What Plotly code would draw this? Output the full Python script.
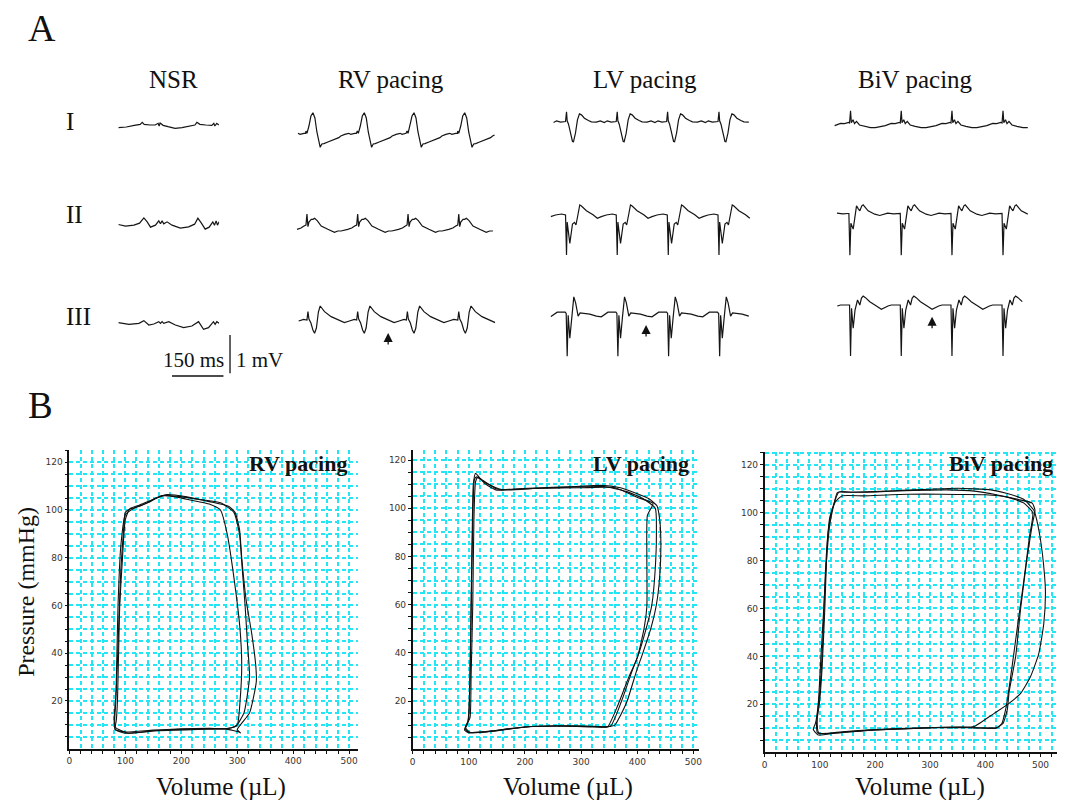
import plotly.graph_objects as go

W, H = 1068, 800

# ---------------- Panel A : ECG data (time in ms, voltage in mV) ----------------
# NSR traces (irregular, listed explicitly)
NSR_I_T = [0, 24, 48, 66, 72, 78, 96, 111, 120, 123, 126, 135, 150, 171, 192, 216, 231, 237, 246, 264, 282, 288, 291, 297, 303]
NSR_I_V = [-0.05, -0.03, 0.02, 0.05, 0.11, 0.05, 0.03, 0.03, 0.08, 0, 0.09, 0.02, -0.02, -0.07, -0.05, 0, 0.03, 0.11, 0.05, 0.03, 0.02, 0.08, 0, 0.08, 0.03]
NSR_II_T = [0, 22, 47, 64, 77, 87, 97, 112, 122, 127, 132, 137, 147, 162, 187, 212, 230, 240, 250, 262, 274, 285, 290, 295, 299, 304]
NSR_II_V = [0, -0.05, -0.02, 0.04, 0.2, 0.08, -0.08, -0.02, 0.11, 0.02, 0.11, 0.02, 0.08, -0.02, -0.11, -0.07, 0.01, 0.19, 0.05, -0.14, -0.08, 0.08, -0.02, 0.11, -0.02, 0.08]
NSR_III_T = [0, 32, 62, 77, 92, 107, 122, 127, 132, 137, 152, 172, 197, 222, 242, 257, 272, 287, 292, 297, 304]
NSR_III_V = [0.01, -0.04, -0.01, 0.07, -0.06, -0.03, 0.04, -0.01, 0.04, -0.01, 0.04, -0.06, -0.14, -0.09, 0.04, -0.19, -0.14, 0.04, -0.04, 0.04, -0.01]

# Paced traces: one beat (time relative to pacing spike) + spike times
RV_I_T = [-21, -18, -12, -6, 0, 6, 12, 18, 22, 27, 33, 45, 66, 78, 84, 90, 96, 108, 114, 126, 131]
RV_I_V = [0.12, 0.05, 0.27, 0.57, 0.67, 0.51, 0.09, -0.24, -0.37, -0.27, -0.26, -0.21, -0.13, -0.08, -0.03, 0, 0.02, 0.05, 0.02, 0.05, 0.05]
RV_I_BEATS = [-97, 56, 211, 361, 514]

LV_I_T = [-3, 0, 2, 6, 12, 18, 21, 27, 33, 39, 45, 54, 66, 75, 90, 102, 114, 123, 135, 147]
LV_I_V = [0, 0.29, 0.02, -0.08, -0.38, -0.6, -0.61, -0.35, 0.05, 0.23, 0.2, 0.1, 0.03, -0.01, -0.02, 0.02, -0.03, 0.02, -0.02, 0]
LV_I_BEATS = [-105, 48, 201, 353, 508]

BIV_I_T = [-3, 0, 2.4, 7.5, 12, 18, 27, 42, 60, 75, 90, 105, 123, 135, 147]
BIV_I_V = [0, 0.37, 0.01, 0.1, -0.02, 0.05, -0.06, -0.1, -0.14, -0.14, -0.12, -0.08, -0.01, -0.02, 0.02]
BIV_I_BEATS = [-98, 55, 208, 361, 515]

RV_II_T = [-3, 0, 3, 6, 13, 18, 23, 31, 43, 63, 83, 93, 103, 123, 135, 144]
RV_II_V = [0.09, 0.42, 0.04, 0.18, 0.26, 0.26, 0.29, 0.22, 0.06, -0.04, -0.13, -0.09, -0.09, -0.04, 0, 0.06]
RV_II_BEATS = [-115, 38, 191, 343, 496]

LV_II_T = [-3, 0, 2, 10, 18, 24, 28.5, 36, 40, 45, 60, 80, 93, 105, 120, 138, 150]
LV_II_V = [0, -1.2, -0.21, -0.85, -0.27, -0.22, -0.3, 0.09, 0.3, 0.27, 0.13, 0.01, -0.1, -0.05, 0, 0.03, 0]
LV_II_BEATS = [-105, 48, 201, 355, 508]

BIV_II_T = [-3, 0, 3, 10, 15, 20, 25.5, 30, 36, 40, 55, 75, 90, 114, 132, 147]
BIV_II_V = [0, -1.25, -0.29, -0.47, -0.05, 0.23, 0.14, 0.08, 0.23, 0.26, 0.08, -0.02, -0.06, 0.01, -0.01, 0]
BIV_II_BEATS = [-100, 53, 208, 361, 515]

RV_III_T = [-3, 0, 3, 9, 15, 20, 25.5, 31.5, 37, 42, 50, 70, 90, 110, 125, 140]
RV_III_V = [0.03, 0.28, 0.06, -0.06, -0.27, -0.37, -0.21, 0.27, 0.45, 0.39, 0.28, 0.13, 0.05, -0.05, 0, 0.05]
RV_III_BEATS = [-112, 41, 191, 341, 496]

LV_III_T = [-3, 0, 3, 8, 13.5, 20, 25.5, 33, 39, 48, 68, 88, 103, 123, 147]
LV_III_V = [0, -1.28, -0.05, -0.74, -0.14, 0.5, 0.32, -0.08, 0.02, 0.01, -0.02, -0.08, -0.1, 0.04, 0.04]
LV_III_BEATS = [-103, 50, 203, 356, 510]

BIV_III_T = [-3, 0, 3, 8, 13.5, 21, 28, 33, 38, 45, 58, 78, 93, 113, 123, 147]
BIV_III_V = [0, -1.53, -0.1, -0.7, -0.15, 0.15, 0, 0.21, 0.27, 0.22, 0.1, -0.03, -0.13, -0.03, 0, 0]
BIV_III_BEATS = [-98, 55, 208, 361, 515]

NSR_LEN, RV_LEN, LV_LEN, BIV_LEN = 304, 606, 608, 590

COLUMNS = ["NSR", "RV pacing", "LV pacing", "BiV pacing"]
LEADS = ["I", "II", "III"]

# arrows (time ms, mV) on lead III of the paced columns
ARROW_T = [283, 288, 301]
ARROW_V = [-0.36, -0.345, -0.35]

# ---------------- Panel B : pressure-volume loops (volume uL, pressure mmHg) ----------------
RV_A_VOL = [82, 100, 150, 200, 250, 285, 300, 305, 308, 305, 295, 282, 270, 250, 220, 190, 170, 150, 125, 108, 100, 95, 90, 88, 86, 84, 82]
RV_A_P = [8, 7, 7.8, 8.3, 8.5, 8.5, 10, 20, 35, 50, 70, 90, 100, 102.5, 104, 105.5, 106, 104.5, 102, 100.5, 96, 80, 60, 40, 20, 12, 8]
RV_B_VOL = [82, 105, 160, 220, 270, 290, 298, 312, 322, 318, 314, 309, 304, 294, 270, 230, 190, 165, 140, 118, 100, 92, 87, 85, 83, 81, 82]
RV_B_P = [9, 6.5, 7.6, 8.2, 8.3, 8.8, 9.5, 15, 30, 45, 60, 75, 90, 99, 103, 104.5, 105.8, 106, 103, 101, 98, 85, 60, 40, 20, 12, 9]
RV_C_VOL = [82, 100, 150, 220, 280, 303, 306, 300, 322, 334, 333, 326, 316, 308, 304, 296, 285, 250, 210, 175, 155, 130, 110, 100, 97, 92, 88, 84, 80, 82]
RV_C_P = [8, 6.5, 7.5, 8, 8.2, 7, 6.6, 8, 15, 28, 35, 48, 62, 80, 92, 99, 101.5, 103.5, 105.5, 106.5, 105, 102, 100.5, 99, 92, 75, 50, 25, 12, 8]

LV_A_VOL = [92, 100, 130, 190, 250, 310, 345, 360, 370, 382, 398, 410, 424, 434, 440, 442, 440, 435, 420, 400, 370, 335, 290, 230, 180, 150, 130, 118, 112, 108, 106, 104, 102, 100, 97, 92]
LV_A_P = [8, 6.8, 7.2, 9, 9.6, 9.6, 9.3, 10, 14, 20, 32, 40, 50, 60, 72, 85, 95, 101, 104, 106, 108.5, 109.5, 109, 108.5, 108, 107.5, 110, 113, 114.5, 110, 90, 60, 30, 15, 10, 8]
LV_B_VOL = [93, 100, 140, 200, 260, 320, 352, 372, 390, 403, 418, 426, 432, 434, 432, 410, 380, 340, 290, 230, 175, 150, 125, 114, 110, 107, 105, 103, 101, 99, 93]
LV_B_P = [8.5, 7, 7.4, 9.2, 9.6, 9.4, 9.5, 20, 32, 40, 52, 60, 75, 90, 100, 104, 107, 109, 108.8, 108.3, 107.8, 108, 111.5, 113, 112, 95, 70, 40, 20, 12, 8.5]
LV_C_VOL = [94, 102, 150, 210, 270, 330, 347, 365, 385, 400, 412, 417, 417, 418, 428, 400, 360, 300, 220, 160, 130, 116, 112, 109, 107, 104, 102, 94]
LV_C_P = [9, 7, 7.8, 9.4, 9.6, 9.2, 9.3, 18, 30, 38, 50, 59, 80, 97, 102, 104.5, 108.5, 108.5, 108.3, 107.6, 110.5, 112.8, 111, 95, 60, 30, 13, 9]

BIV_A_VOL = [97, 130, 200, 260, 320, 375, 380, 416, 443, 464, 482, 497, 506, 509, 507, 500, 491, 488, 470, 440, 410, 350, 300, 250, 200, 150, 132, 125, 118, 112, 107, 102, 97, 92, 88, 97]
BIV_A_P = [7.2, 8, 9.3, 9.8, 10.4, 10.6, 10.7, 16.2, 20.4, 24.6, 31.6, 41.3, 53.8, 66.4, 74.7, 88.7, 99, 101, 105.5, 108, 109.5, 110.2, 109.8, 109.3, 108.8, 108.5, 108.5, 103, 95, 80, 60, 40, 20, 12, 9.5, 7.2]
BIV_B_VOL = [98, 140, 200, 260, 320, 380, 420, 432, 440, 443, 455, 464, 475, 485, 490, 485, 460, 420, 380, 330, 270, 210, 160, 135, 122, 115, 110, 106, 100, 95, 98]
BIV_B_P = [8, 8.5, 9.5, 10, 10.3, 10.2, 10.3, 12, 18, 25, 40, 60, 80, 95, 101, 104, 105.5, 107.5, 109, 109.5, 109.3, 108.8, 108.5, 108.7, 101, 92, 75, 50, 25, 14, 8]
BIV_C_VOL = [96, 120, 180, 240, 300, 360, 420, 430, 436, 440, 448, 458, 470, 480, 486, 470, 440, 400, 350, 290, 230, 180, 140, 128, 118, 113, 109, 104, 99, 94, 96]
BIV_C_P = [8, 7.8, 9, 9.7, 10.2, 10.4, 10, 12, 17, 22, 35, 52, 72, 90, 100, 104, 106.5, 107.5, 107.6, 107.8, 107.5, 107, 107, 104.5, 98, 85, 60, 35, 20, 12, 8]

PV_TITLES = ["RV pacing", "LV pacing", "BiV pacing"]
VOL_GRID = list(range(0, 521, 20))          # grid every 20 uL, labels every 100
P_GRID = list(range(5, 126, 5))             # grid every 5 mmHg, labels every 20

# ---------------- helpers ----------------
def px(x):
    return x / W


def py(y):
    return 1 - y / H


def build_beats(T, V, beats, length):
    xs, ys = [], []
    for i, b in enumerate(beats):
        nxt = beats[i + 1] + T[0] if i + 1 < len(beats) else float("inf")
        for t, v in zip(T, V):
            tt = b + t
            if 0 <= tt <= length and tt < nxt:
                xs.append(tt)
                ys.append(v)
    return xs, ys


PX_PER_MS = 1 / 3.0
PX_PER_MV = 33.3
COL_X = [116, 293, 550.7, 834]
BASE_Y = [[126, 135, 121.5, 123], [224.5, 228, 215, 213.5], [323, 321, 313.5, 305]]

ecg_series = [
    [(NSR_I_T, NSR_I_V), build_beats(RV_I_T, RV_I_V, RV_I_BEATS, RV_LEN),
     build_beats(LV_I_T, LV_I_V, LV_I_BEATS, LV_LEN), build_beats(BIV_I_T, BIV_I_V, BIV_I_BEATS, BIV_LEN)],
    [(NSR_II_T, NSR_II_V), build_beats(RV_II_T, RV_II_V, RV_II_BEATS, RV_LEN),
     build_beats(LV_II_T, LV_II_V, LV_II_BEATS, LV_LEN), build_beats(BIV_II_T, BIV_II_V, BIV_II_BEATS, BIV_LEN)],
    [(NSR_III_T, NSR_III_V), build_beats(RV_III_T, RV_III_V, RV_III_BEATS, RV_LEN),
     build_beats(LV_III_T, LV_III_V, LV_III_BEATS, LV_LEN), build_beats(BIV_III_T, BIV_III_V, BIV_III_BEATS, BIV_LEN)],
]
col_len = [NSR_LEN, RV_LEN, LV_LEN, BIV_LEN]

fig = go.Figure()
layout = {}
SERIF = "Liberation Serif, Times New Roman, serif"
annotations = []
shapes = []

idx = 0
for r in range(3):
    for c in range(4):
        idx += 1
        xs, ys = ecg_series[r][c]
        fig.add_trace(go.Scatter(x=xs, y=ys, mode="lines", xaxis=f"x{idx}", yaxis=f"y{idx}",
                                 line=dict(color="#151515", width=1.2), hoverinfo="skip", showlegend=False))
        x0 = COL_X[c]
        x1 = x0 + col_len[c] * PX_PER_MS
        yb = BASE_Y[r][c]
        half = 2 * PX_PER_MV
        layout[f"xaxis{idx}"] = dict(domain=[px(x0), px(x1)], range=[0, col_len[c]], visible=False,
                                     anchor=f"y{idx}", fixedrange=True)
        layout[f"yaxis{idx}"] = dict(domain=[py(yb + half), py(yb - half)], range=[-2, 2], visible=False,
                                     anchor=f"x{idx}", fixedrange=True)

# arrows on lead III
for k, (t, v) in enumerate(zip(ARROW_T, ARROW_V)):
    ax_i = 10 + k
    annotations.append(dict(x=t, y=v, xref=f"x{ax_i}", yref=f"y{ax_i}", text="", showarrow=True,
                            ax=0, ay=13, arrowhead=2, arrowsize=1.4, arrowwidth=1.3, arrowcolor="#111",
                            standoff=0))

# Panel A text
annotations.append(dict(x=px(39), y=py(28), xref="paper", yref="paper", text="A", showarrow=False,
                        font=dict(family=SERIF, size=38, color="#111"), xanchor="center", yanchor="middle"))
for name, cx in zip(COLUMNS, [171, 390, 646, 918]):
    annotations.append(dict(x=px(cx), y=py(79), xref="paper", yref="paper", text=name, showarrow=False,
                            font=dict(family=SERIF, size=25, color="#111"), xanchor="center", yanchor="middle"))
for lead, yy in zip(LEADS, [122, 214, 316]):
    annotations.append(dict(x=px(61), y=py(yy), xref="paper", yref="paper", text=lead, showarrow=False,
                            font=dict(family=SERIF, size=25, color="#111"), xanchor="left", yanchor="middle"))
# scale bar
annotations.append(dict(x=px(191.7), y=py(359.5), xref="paper", yref="paper", text="150 ms", showarrow=False,
                        font=dict(family=SERIF, size=21, color="#111"), xanchor="center", yanchor="middle"))
annotations.append(dict(x=px(257.8), y=py(359.5), xref="paper", yref="paper", text="1 mV", showarrow=False,
                        font=dict(family=SERIF, size=21, color="#111"), xanchor="center", yanchor="middle"))
shapes.append(dict(type="line", xref="paper", yref="paper", x0=px(170), x1=px(221.7), y0=py(376), y1=py(376),
                   line=dict(color="#111", width=1.3)))
shapes.append(dict(type="line", xref="paper", yref="paper", x0=px(228.3), x1=px(228.3), y0=py(335), y1=py(373.3),
                   line=dict(color="#111", width=1.3)))

# ---------------- Panel B ----------------
annotations.append(dict(x=px(38), y=py(405.5), xref="paper", yref="paper", text="B", showarrow=False,
                        font=dict(family=SERIF, size=37, color="#111"), xanchor="center", yanchor="middle"))

pv_loops = [
    [(RV_A_VOL, RV_A_P), (RV_B_VOL, RV_B_P), (RV_C_VOL, RV_C_P)],
    [(LV_A_VOL, LV_A_P), (LV_B_VOL, LV_B_P), (LV_C_VOL, LV_C_P)],
    [(BIV_A_VOL, BIV_A_P), (BIV_B_VOL, BIV_B_P), (BIV_C_VOL, BIV_C_P)],
]
# plot geometry in pixels: (x_left, x_right, y_top, y_bottom, xmax, ymax)
PV_GEOM = [
    (66.7, 356.6, 450.3, 748.7, 515, 125),
    (412.0, 700.0, 450.4, 749.2, 510, 124),
    (766.0, 1060.0, 451.6, 752.2, 530, 125.5),
]
TITLE_RIGHT = [348, 692, 1058]
VOL_CX = [219, 568, 922.5]
GRID = "#22e6f3"
TICKFONT = dict(family="DejaVu Sans, Verdana, sans-serif", size=9, color="#3a3530")

for k in range(3):
    ai = 13 + k
    xl, xr, yt, yb, xmax, ymax = PV_GEOM[k]
    for vol, pr in pv_loops[k]:
        fig.add_trace(go.Scatter(x=vol, y=pr, mode="lines", xaxis=f"x{ai}", yaxis=f"y{ai}",
                                 line=dict(color="#111", width=1.1, shape="spline", smoothing=0.5),
                                 hoverinfo="skip", showlegend=False))
    layout[f"xaxis{ai}"] = dict(
        domain=[px(xl), px(xr)], range=[0, xmax], anchor=f"y{ai}",
        tickvals=VOL_GRID, ticktext=[str(v) if v % 100 == 0 else "" for v in VOL_GRID],
        showline=True, linecolor="#111", linewidth=1.6, ticks="outside", ticklen=3, tickcolor="#111",
        tickfont=TICKFONT, showgrid=True, gridcolor=GRID, griddash="4px,3px", gridwidth=1.5, zeroline=False,
        fixedrange=True)
    layout[f"yaxis{ai}"] = dict(
        domain=[py(yb), py(yt)], range=[0, ymax], anchor=f"x{ai}",
        tickvals=P_GRID, ticktext=[str(v) if v % 20 == 0 else "" for v in P_GRID],
        showline=True, linecolor="#111", linewidth=1.6, ticks="outside", ticklen=3, tickcolor="#111",
        tickfont=TICKFONT, showgrid=True, gridcolor=GRID, griddash="4px,3px", gridwidth=1.5, zeroline=False,
        fixedrange=True)
    annotations.append(dict(x=px(TITLE_RIGHT[k]), y=py(463), xref="paper", yref="paper", text=f"<b>{PV_TITLES[k]}</b>",
                            showarrow=False, font=dict(family=SERIF, size=22, color="#111"),
                            xanchor="right", yanchor="middle"))
    annotations.append(dict(x=px(VOL_CX[k]), y=py(787), xref="paper", yref="paper", text="Volume (µL)",
                            showarrow=False, font=dict(family=SERIF, size=25, color="#111"),
                            xanchor="center", yanchor="middle"))

annotations.append(dict(x=px(23), y=py(592), xref="paper", yref="paper", text="Pressure (mmHg)", showarrow=False,
                        textangle=-90, font=dict(family=SERIF, size=24, color="#111"),
                        xanchor="center", yanchor="middle"))

fig.update_layout(width=W, height=H, margin=dict(l=0, r=0, t=0, b=0), paper_bgcolor="white",
                  plot_bgcolor="white", showlegend=False, annotations=annotations, shapes=shapes, **layout)

fig.write_html("out.html", config={"displayModeBar": False},
               post_script="document.body.style.margin='0px';document.body.style.overflow='hidden';")
